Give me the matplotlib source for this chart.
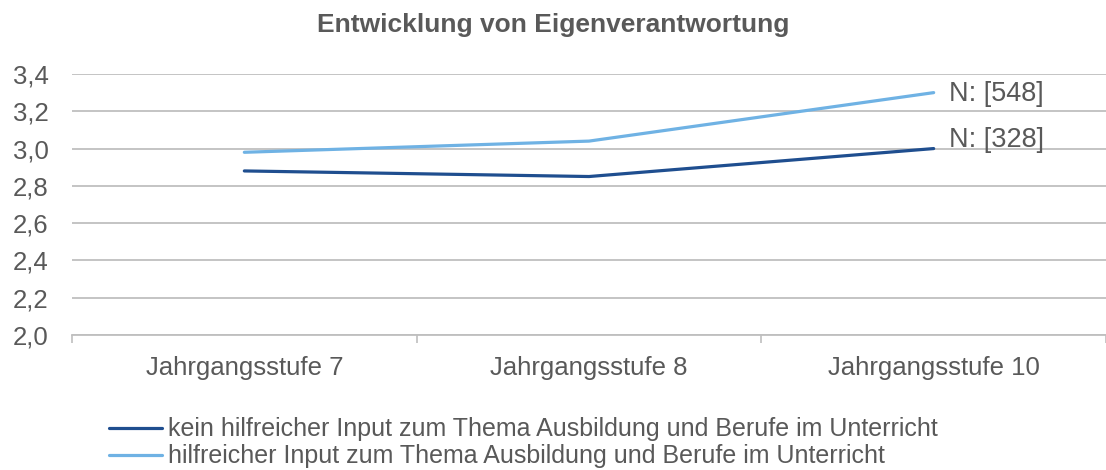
import matplotlib.pyplot as plt
from matplotlib.ticker import FixedLocator, FuncFormatter

plt.rcParams['font.family'] = ['Liberation Sans', 'DejaVu Sans']

#Data
categories = ['Jahrgangsstufe 7', 'Jahrgangsstufe 8', 'Jahrgangsstufe 10']
kein_input = [2.88, 2.85, 3.00]
hilfreich_input = [2.98, 3.04, 3.30]
n_labels = ['N: [328]', 'N: [548]']
series_names = ['kein hilfreicher Input zum Thema Ausbildung und Berufe im Unterricht',
                'hilfreicher Input zum Thema Ausbildung und Berufe im Unterricht']
y_ticks = [2.0, 2.2, 2.4, 2.6, 2.8, 3.0, 3.2, 3.4]

text_col = '#595959'
dark_col = '#1F4E8F'
light_col = '#6FB2E4'
fs = 18.5

fig = plt.figure(figsize=(11.06, 4.70), dpi=100)
ax = fig.add_axes([0.0651, 0.2872, 0.9349, 0.5554])

x = list(range(len(categories)))
ax.plot(x, kein_input, color=dark_col, lw=2.3, solid_capstyle='round', label=series_names[0], zorder=3)
ax.plot(x, hilfreich_input, color=light_col, lw=2.3, solid_capstyle='round', label=series_names[1], zorder=3)

#N labels at the last point of each line
ax.annotate(n_labels[0], (x[-1], kein_input[-1]), xytext=(11, 6), textcoords='offset points',
            ha='left', va='center', fontsize=19.5, color=text_col)
ax.annotate(n_labels[1], (x[-1], hilfreich_input[-1]), xytext=(11, -1), textcoords='offset points',
            ha='left', va='center', fontsize=19.5, color=text_col)

ax.set_xlim(-0.5, 2.5)
ax.set_ylim(2.0, 3.4)
ax.set_yticks(y_ticks)
ax.yaxis.set_major_formatter(FuncFormatter(lambda v, p: ('%.1f' % v).replace('.', ',')))
ax.set_xticks(x)
ax.set_xticklabels(categories)
ax.xaxis.set_minor_locator(FixedLocator([-0.5, 0.5, 1.5, 2.5]))
ax.tick_params(axis='x', which='major', length=0, pad=15, labelsize=fs, labelcolor=text_col)
ax.tick_params(axis='x', which='minor', length=6, width=1.2, color='#BFBFBF')
ax.tick_params(axis='y', length=0, pad=17, labelsize=fs, labelcolor=text_col)

ax.grid(axis='y', color='#BFBFBF', lw=1.3)
ax.set_axisbelow(True)
for s in ['top', 'right', 'left']:
    ax.spines[s].set_visible(False)
ax.spines['bottom'].set_color('#BFBFBF')
ax.spines['bottom'].set_linewidth(1.3)

fig.text(0.5, 0.947, 'Entwicklung von Eigenverantwortung', ha='center', va='center',
         fontsize=19, fontweight='bold', color=text_col)

leg = fig.legend(loc='upper left', bbox_to_anchor=(0.099, 0.112), frameon=False, fontsize=18,
                 handlelength=2.1, handletextpad=0.25, labelspacing=0.12, borderaxespad=0, borderpad=0)
for t in leg.get_texts():
    t.set_color(text_col)

fig.savefig('out.png', dpi=100)
